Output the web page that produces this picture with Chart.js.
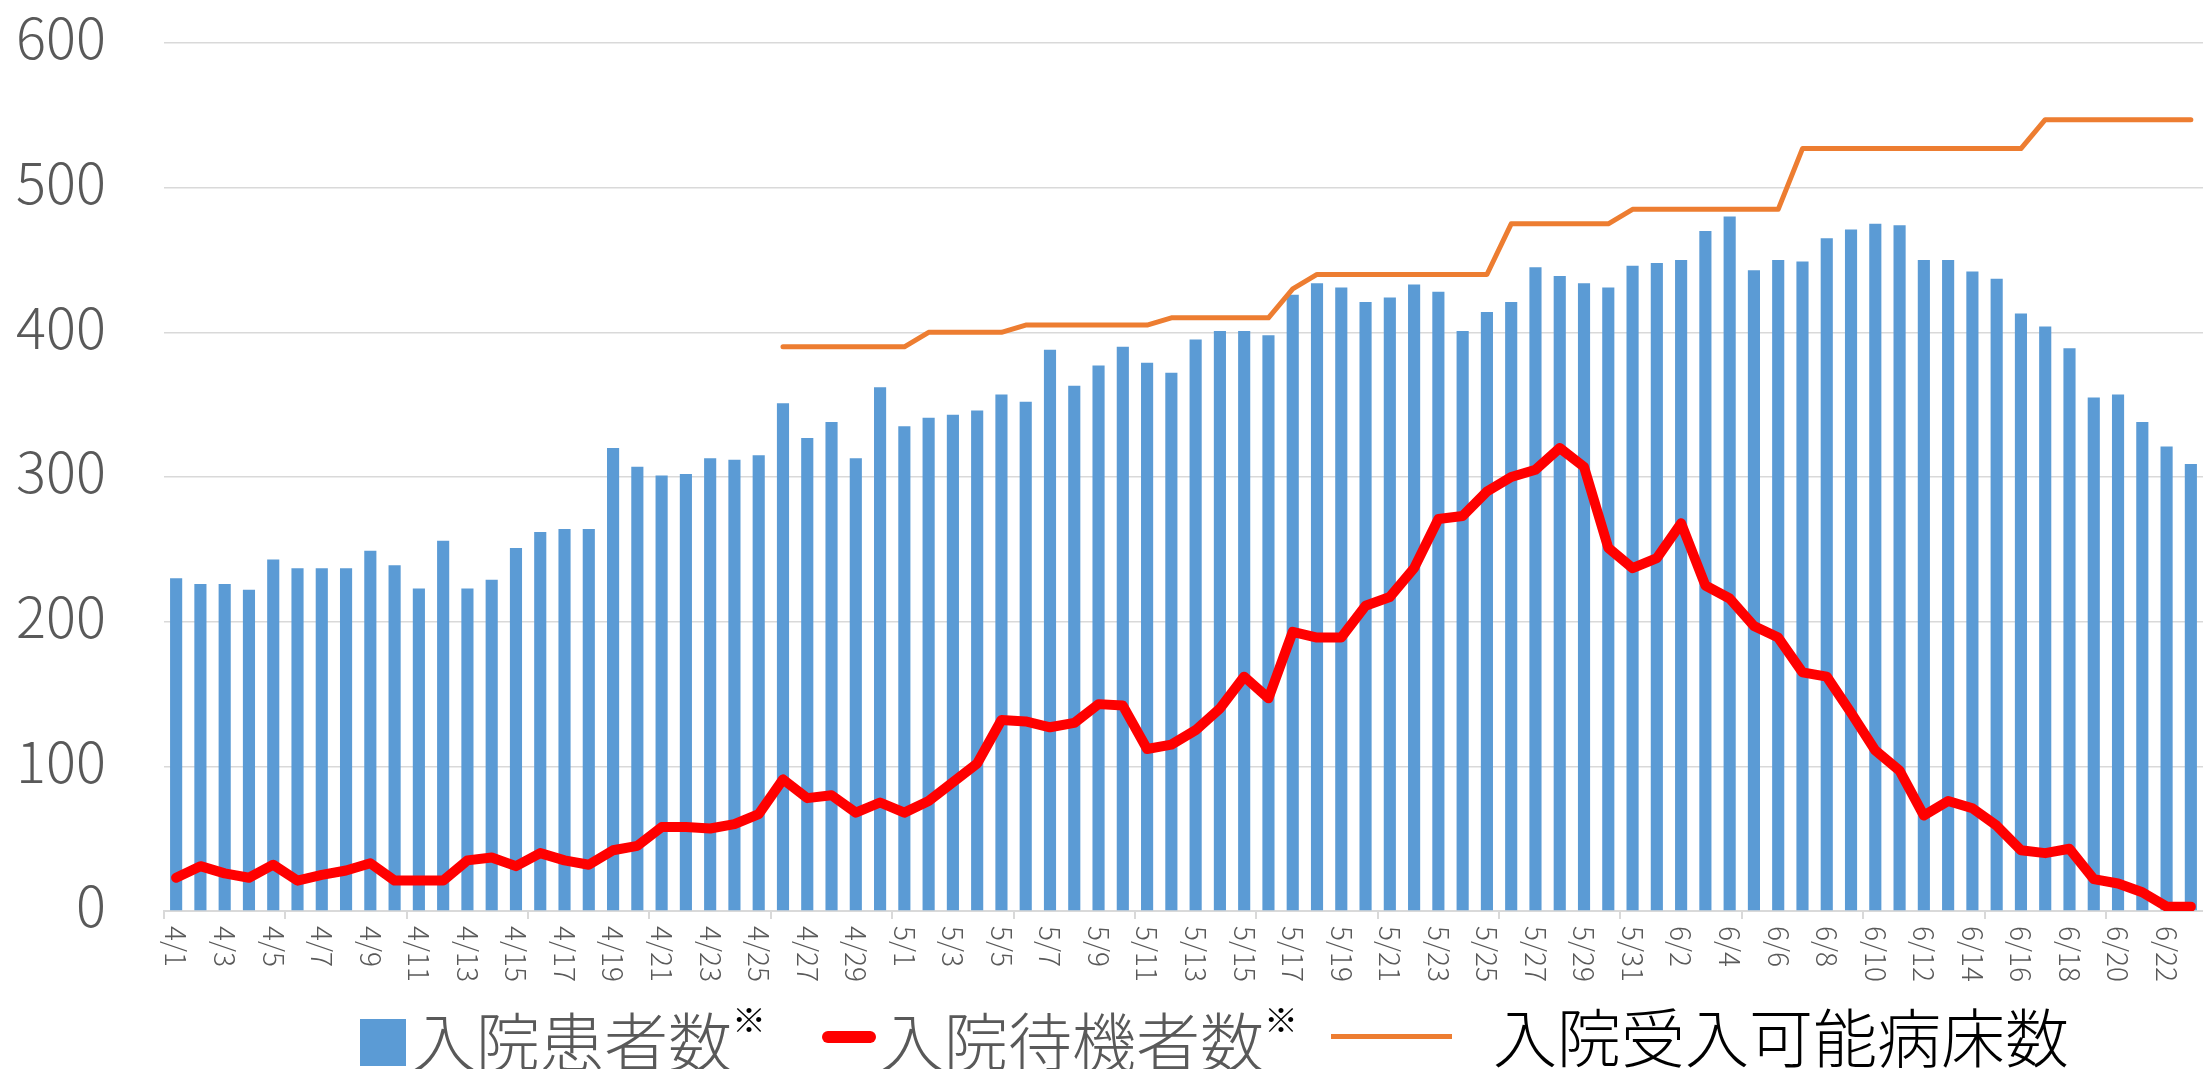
<!DOCTYPE html>
<html lang="ja">
<head>
<meta charset="utf-8">
<title>入院患者数・入院待機者数・入院受入可能病床数</title>
<script src="https://cdn.jsdelivr.net/npm/chart.js@4.4.1/dist/chart.umd.min.js"></script>
<style>
  html, body { margin: 0; padding: 0; background: #fff; overflow: hidden; }
  #wrap { position: relative; width: 2203px; height: 1069px; }
  #chart { position: absolute; left: 0; top: 0; }
  .lg { position: absolute; font-family: "Noto Sans CJK JP", sans-serif; font-weight: 300;
        font-size: 64px; line-height: 64px; white-space: nowrap; }
  .lg sup { font-size: 34px; line-height: 34px; vertical-align: top; position: relative; top: -4px;
            color: #000; font-weight: 400; }
  .mark { position: absolute; }
</style>
</head>
<body>
<div id="wrap">
  <canvas id="chart" width="2203" height="1069"></canvas>
  <div class="mark" style="left:360px; top:1019px; width:46px; height:47px; background:#5B9BD5;"></div>
  <div class="lg" style="left:412px; top:1006px; color:#595959;">入院患者数<sup>※</sup></div>
  <div class="mark" style="left:822px; top:1031px; width:54px; height:12px; border-radius:6px; background:#FF0000;"></div>
  <div class="lg" style="left:880px; top:1006px; color:#595959;">入院待機者数<sup>※</sup></div>
  <div class="mark" style="left:1331px; top:1034px; width:121px; height:5px; background:#ED7D31;"></div>
  <div class="lg" style="left:1493px; top:1002px; color:#000;">入院受入可能病床数</div>
</div>
<script>
const dates = [
  '4/1','4/2','4/3','4/4','4/5','4/6','4/7','4/8','4/9','4/10',
  '4/11','4/12','4/13','4/14','4/15','4/16','4/17','4/18','4/19','4/20',
  '4/21','4/22','4/23','4/24','4/25','4/26','4/27','4/28','4/29','4/30',
  '5/1','5/2','5/3','5/4','5/5','5/6','5/7','5/8','5/9','5/10',
  '5/11','5/12','5/13','5/14','5/15','5/16','5/17','5/18','5/19','5/20',
  '5/21','5/22','5/23','5/24','5/25','5/26','5/27','5/28','5/29','5/30',
  '5/31','6/1','6/2','6/3','6/4','6/5','6/6','6/7','6/8','6/9',
  '6/10','6/11','6/12','6/13','6/14','6/15','6/16','6/17','6/18','6/19',
  '6/20','6/21','6/22','6/23'
];

// 入院患者数
const patients = [
  230, 226, 226, 222, 243, 237, 237, 237, 249, 239,
  223, 256, 223, 229, 251, 262, 264, 264, 320, 307,
  301, 302, 313, 312, 315, 351, 327, 338, 313, 362,
  335, 341, 343, 346, 357, 352, 388, 363, 377, 390,
  379, 372, 395, 401, 401, 398, 426, 434, 431, 421,
  424, 433, 428, 401, 414, 421, 445, 439, 434, 431,
  446, 448, 450, 470, 480, 443, 450, 449, 465, 471,
  475, 474, 450, 450, 442, 437, 413, 404, 389, 355,
  357, 338, 321, 309
];

// 入院待機者数
const waiting = [
  23, 31, 26, 23, 32, 21, 25, 28, 33, 21,
  21, 21, 35, 37, 31, 40, 35, 32, 42, 45,
  58, 58, 57, 60, 67, 91, 78, 80, 68, 75,
  68, 76, 89, 102, 132, 131, 127, 130, 143, 142,
  112, 115, 125, 140, 162, 147, 193, 189, 189, 211,
  217, 237, 271, 273, 290, 300, 305, 320, 307, 251,
  237, 244, 268, 225, 216, 197, 189, 165, 162, 137,
  111, 97, 66, 76, 71, 59, 42, 40, 43, 22,
  19, 13, 3, 3
];

// 入院受入可能病床数 (4/26から)
const beds = [
  null, null, null, null, null, null, null, null, null, null,
  null, null, null, null, null, null, null, null, null, null,
  null, null, null, null, null, 390, 390, 390, 390, 390,
  390, 400, 400, 400, 400, 405, 405, 405, 405, 405,
  405, 410, 410, 410, 410, 410, 430, 440, 440, 440,
  440, 440, 440, 440, 440, 475, 475, 475, 475, 475,
  485, 485, 485, 485, 485, 485, 485, 527, 527, 527,
  527, 527, 527, 527, 527, 527, 527, 547, 547, 547,
  547, 547, 547, 547
];

const yTicks = [0, 100, 200, 300, 400, 500, 600];

const FONT = '"Noto Sans CJK JP", sans-serif';
const GRAY = '#595959';
const GRID = '#d9d9d9';

// x軸ラベル (縦書き・時計回り) を2日おきに描く
const xLabelPlugin = {
  id: 'xLabels',
  afterDraw(chart) {
    const xs = chart.scales.x;
    const ctx = chart.ctx;
    ctx.save();
    ctx.font = '300 28px ' + FONT;
    ctx.fillStyle = GRAY;
    ctx.textAlign = 'left';
    ctx.textBaseline = 'middle';
    for (let i = 0; i < dates.length; i += 2) {
      const x = xs.getPixelForValue(i);
      ctx.save();
      ctx.translate(x, chart.chartArea.bottom + 15);
      ctx.rotate(Math.PI / 2);
      ctx.fillText(dates[i], 0, 0);
      ctx.restore();
    }
    ctx.restore();
  }
};

new Chart(document.getElementById('chart'), {
  type: 'bar',
  data: {
    labels: dates,
    datasets: [
      {
        type: 'line',
        label: '入院待機者数',
        data: waiting,
        borderColor: '#FF0000',
        borderWidth: 10,
        borderJoinStyle: 'round',
        borderCapStyle: 'round',
        pointRadius: 0,
        tension: 0,
        order: 0
      },
      {
        type: 'line',
        label: '入院受入可能病床数',
        data: beds,
        borderColor: '#ED7D31',
        borderWidth: 5,
        borderJoinStyle: 'round',
        borderCapStyle: 'round',
        pointRadius: 0,
        tension: 0,
        spanGaps: false,
        order: 1
      },
      {
        type: 'bar',
        label: '入院患者数',
        data: patients,
        backgroundColor: '#5B9BD5',
        categoryPercentage: 1,
        barPercentage: 0.5,
        order: 2
      }
    ]
  },
  options: {
    responsive: false,
    animation: false,
    devicePixelRatio: 1,
    layout: { padding: { top: 43, bottom: 150, left: 0, right: 0 } },
    plugins: {
      legend: { display: false },
      tooltip: { enabled: false }
    },
    scales: {
      x: {
        offset: true,
        grid: {
          offset: true,
          drawOnChartArea: false,
          drawTicks: true,
          tickLength: 8,
          lineWidth: 2,
          color: (c) => (c.index % 5 === 0 ? GRID : 'rgba(0,0,0,0)')
        },
        border: { display: true, color: GRID, width: 2 },
        ticks: { display: false, autoSkip: false }
      },
      y: {
        min: 0,
        max: 600,
        afterFit(scale) {
          scale.width = 164;
          scale.paddingTop = 0;
          scale.paddingBottom = 0;
        },
        afterBuildTicks(scale) { scale.ticks = yTicks.map(v => ({ value: v })); },
        grid: { color: GRID, lineWidth: 1.5, drawTicks: false },
        border: { display: false },
        ticks: {
          padding: 58,
          labelOffset: -5,
          color: GRAY,
          font: { family: FONT, size: 56, weight: 300 }
        }
      }
    }
  },
  plugins: [xLabelPlugin]
});
</script>
</body>
</html>
